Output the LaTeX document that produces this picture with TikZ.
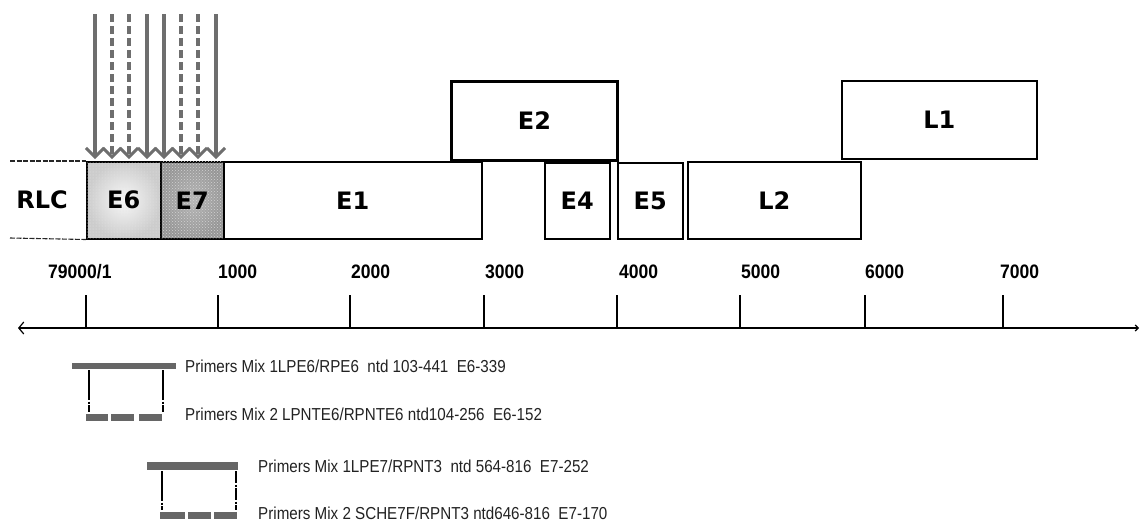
\documentclass[tikz,border=0pt]{standalone}
\usepackage{fontspec}
\setmainfont{Liberation Sans}
\newfontfamily\lblfont{DejaVu Sans}
\usetikzlibrary{arrows.meta,patterns}
\definecolor{arrgray}{HTML}{6E6E6E}
\definecolor{bargray}{HTML}{666666}
\definecolor{txtgray}{HTML}{222222}
\newcommand{\tnum}[1]{\scalebox{0.9}[1]{#1}}
\newcommand{\ptxt}[1]{\scalebox{0.92}[1.05]{#1}}
\begin{document}
\begin{tikzpicture}[x=1pt,y=-1pt,
  gbox/.style={draw=black,line width=1.5pt,inner sep=0pt,anchor=north west,
    font=\lblfont\bfseries\fontsize{24}{24}\selectfont},
  lbl/.style={inner sep=0pt,font=\lblfont\bfseries\fontsize{24}{24}\selectfont},
  solidarr/.style={draw=arrgray,line width=3.6pt,-{Straight Barb[length=9pt,width=18pt,line width=3pt]}},
  dasharr/.style={solidarr,dash pattern=on 8pt off 4pt},
  rlcline/.style={draw=black!85,line width=1.1pt,dash pattern=on 5pt off 1.5pt},
  axisline/.style={draw=black,line width=1.2pt},
  ticknum/.style={inner sep=0pt,anchor=base west,font=\bfseries\fontsize{19.5}{19.5}\selectfont},
  primbar/.style={draw=bargray,line width=6pt},
  primdash/.style={draw=bargray,line width=7pt},
  primvert/.style={draw=black,line width=2.6pt,dash pattern=on 30pt off 1.5pt on 2pt off 1.5pt},
  primtxt/.style={inner sep=0pt,anchor=west,text=txtgray,font=\fontsize{16.5}{16.5}\selectfont}]
\useasboundingbox (0,0) rectangle (1140,523);

% RLC dashed borders
\coordinate (rlcTL) at (10,161);
\coordinate (rlcBL) at (10,238);
\node[lbl] (RLC) at (42,200) {RLC};

% gene boxes
\node[gbox,minimum width=74pt,minimum height=77pt,shade,inner color=gray!6,outer color=gray!40,
  postaction={pattern=dots,pattern color=white!80!gray}] (E6) at (86,161) {};
\node[lbl] at (E6.center) {E6};
\node[gbox,minimum width=63pt,minimum height=77pt,shade,inner color=gray!58,outer color=gray!82,
  postaction={pattern=crosshatch dots,pattern color=gray!35}] (E7) at (160,161) {};
\node[lbl] at (E7.center) {E7};
\node[gbox,minimum width=258pt,minimum height=77pt] (E1) at (223,161) {E1};
\node[gbox,line width=3pt,minimum width=166pt,minimum height=79pt] (E2) at (450,80) {E2};
\node[gbox,minimum width=65pt,minimum height=76pt] (E4) at (544,162) {E4};
\node[gbox,minimum width=65pt,minimum height=76pt] (E5) at (617,162) {E5};
\node[gbox,minimum width=173pt,minimum height=77pt] (L2) at (687,161) {L2};
\node[gbox,minimum width=195pt,minimum height=78pt] (L1) at (841,80) {L1};

\draw[rlcline] (rlcTL) -- (E6.north west);
\draw[rlcline] (rlcBL) -- (E6.south west);

% arrows from above
\foreach \i/\x/\s in {1/95/solidarr,2/112/dasharr,3/129/dasharr,4/147/solidarr,
                      5/164/solidarr,6/181/dasharr,7/198/dasharr,8/216/solidarr}{
  \coordinate (as\i) at (\x,14);
  \coordinate (ae\i) at (\x,159);
  \draw[\s] (as\i) -- (ae\i);
}

% axis
\coordinate (axL) at (18,328);
\coordinate (axR) at (1139,328);
\draw[axisline,{Straight Barb[length=5pt,width=12pt]}-{Straight Barb[length=3pt,width=6pt]}] (axL) -- (axR);
\foreach \n/\x in {0/86,1/218,2/350,3/484,4/617,5/740,6/865,7/1003}{
  \coordinate (tt\n) at (\x,295);
  \coordinate (tb\n) at (\x,328);
  \draw[axisline] (tt\n) -- (tb\n);
}
\node[ticknum] (n0) at (48,278) {\tnum{79000/1}};
\node[ticknum] (n1) at (218,278) {\tnum{1000}};
\node[ticknum] (n2) at (351,278) {\tnum{2000}};
\node[ticknum] (n3) at (485,278) {\tnum{3000}};
\node[ticknum] (n4) at (619,278) {\tnum{4000}};
\node[ticknum] (n5) at (741,278) {\tnum{5000}};
\node[ticknum] (n6) at (865,278) {\tnum{6000}};
\node[ticknum] (n7) at (1000,278) {\tnum{7000}};

% primers group 1
\coordinate (p1a) at (72,366); \coordinate (p1b) at (176,366);
\draw[primbar] (p1a) -- (p1b);
\coordinate (p1l1) at (89,370); \coordinate (p1l2) at (89,412);
\coordinate (p1r1) at (163,370); \coordinate (p1r2) at (163,412);
\draw[primvert] (p1l1) -- (p1l2);
\draw[primvert] (p1r1) -- (p1r2);
\coordinate (p1d1) at (86,417); \coordinate (p1d2) at (108,417);
\coordinate (p1d3) at (111,417); \coordinate (p1d4) at (134,417);
\coordinate (p1d5) at (139,417); \coordinate (p1d6) at (162,417);
\draw[primdash] (p1d1) -- (p1d2);
\draw[primdash] (p1d3) -- (p1d4);
\draw[primdash] (p1d5) -- (p1d6);
\node[primtxt] (t1) at (185,366) {\ptxt{Primers Mix 1LPE6/RPE6\ \ ntd 103-441\ \ E6-339}};
\node[primtxt] (t2) at (185,414) {\ptxt{Primers Mix 2 LPNTE6/RPNTE6 ntd104-256\ \ E6-152}};

% primers group 2
\coordinate (p2a) at (147,466); \coordinate (p2b) at (238,466);
\draw[primbar,line width=8pt] (p2a) -- (p2b);
\coordinate (p2l1) at (162,471); \coordinate (p2l2) at (162,510);
\coordinate (p2r1) at (236,471); \coordinate (p2r2) at (236,510);
\draw[primvert] (p2l1) -- (p2l2);
\draw[primvert,dash pattern=on 12pt off 1.5pt on 2pt off 1.5pt] (p2r1) -- (p2r2);
\coordinate (p2d1) at (160,515); \coordinate (p2d2) at (185,515);
\coordinate (p2d3) at (188,515); \coordinate (p2d4) at (211,515);
\coordinate (p2d5) at (214,515); \coordinate (p2d6) at (237,515);
\draw[primdash] (p2d1) -- (p2d2);
\draw[primdash] (p2d3) -- (p2d4);
\draw[primdash] (p2d5) -- (p2d6);
\node[primtxt] (t3) at (258,466) {\ptxt{Primers Mix 1LPE7/RPNT3\ \ ntd 564-816\ \ E7-252}};
\node[primtxt] (t4) at (258,513) {\ptxt{Primers Mix 2 SCHE7F/RPNT3 ntd646-816\ \ E7-170}};
\end{tikzpicture}
\end{document}
